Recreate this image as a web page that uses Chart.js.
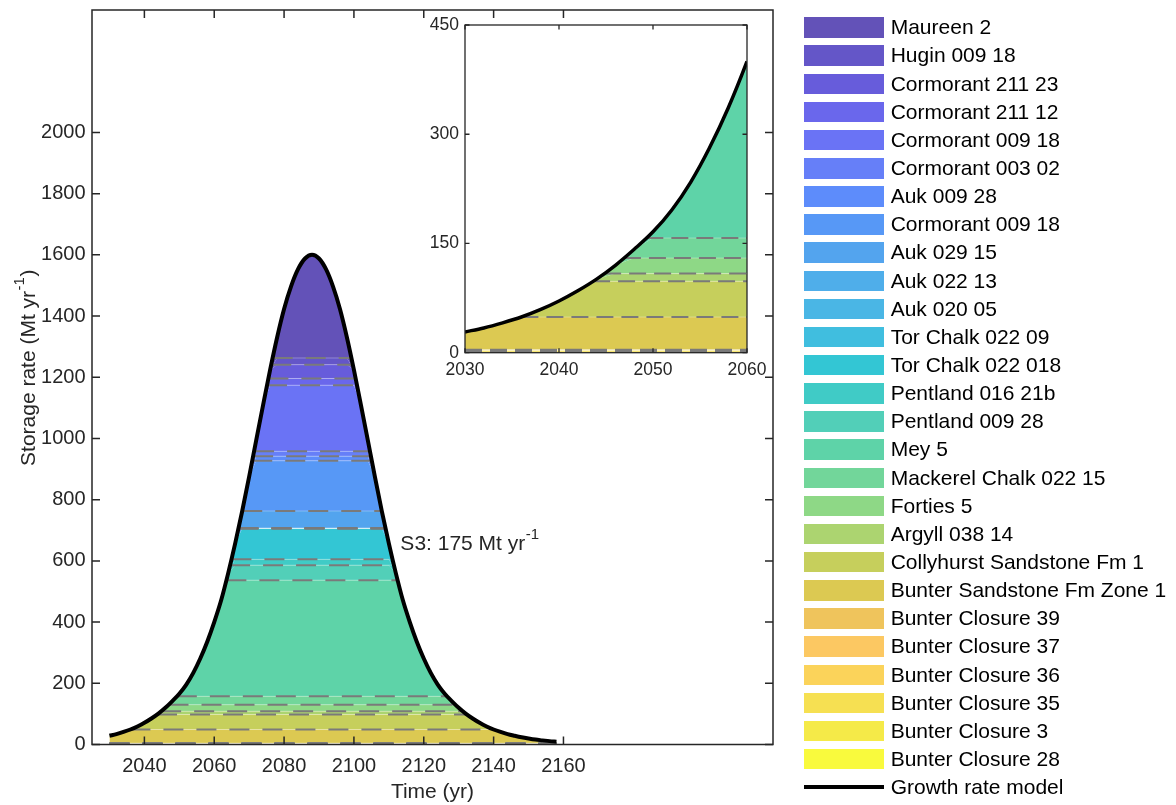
<!DOCTYPE html>
<html>
<head>
<meta charset="utf-8">
<script src="https://cdn.jsdelivr.net/npm/chart.js@4.4.1/dist/chart.umd.min.js"></script>
<style>
html,body{margin:0;padding:0;background:#fff;}
#wrap{position:relative;width:1176px;height:805px;overflow:hidden;font-family:"Liberation Sans",Arial,sans-serif;}
#main{position:absolute;left:0;top:0;}
#inset{position:absolute;left:410px;top:15px;}
#legend{position:absolute;left:803.5px;top:0;width:372px;height:805px;}
.item{position:absolute;left:0;height:20.5px;width:372px;}
.sw{position:absolute;left:0;top:0;width:80px;height:20.5px;}
.ln{position:absolute;left:0;top:8.25px;width:80px;height:4px;background:#000;}
.lbl{position:absolute;left:87.2px;top:0;height:20.5px;line-height:20.5px;font-size:21px;color:#000;white-space:nowrap;}
</style>
</head>
<body>
<div id="wrap">
<canvas id="main" width="1176" height="805"></canvas>
<canvas id="inset" width="360" height="380"></canvas>
<div id="legend"></div>
</div>
<script>
// ---------------- data ----------------
const years = [2030,2032,2034,2036,2038,2040,2042,2044,2046,2048,2050,2052,2054,2056,2058,2060,2062,2064,2066,2068,2070,2072,2074,2076,2078,2080,2082,2084,2086,2088,
               2090,2092,2094,2096,2098,2100,2102,2104,2106,2108,2110,2112,2114,2116,2118,2120,2122,2124,2126,2128,2130,2132,2134,2136,2138,2140,2142,2144,2146,2148,2150,2152,2154,2156,2158];
const growthRate = [28.5,34,41,49,59,71,85,101,120,142,166,196,234,281,336,400,472,560,657,762,875,993,1110,1224,1330,1423,1497,1553,1588,1600,
                    1588,1553,1497,1423,1330,1224,1110,993,875,762,657,560,472,400,336,281,234,196,166,142,120,101,85,71,59,49,41,34,28.5,23.5,19.5,16,13.5,11,9];
// storage sites, bottom of the stack first
const sites = ["Bunter Closure 28","Bunter Closure 3","Bunter Closure 35","Bunter Closure 36","Bunter Closure 37","Bunter Closure 39",
  "Bunter Sandstone Fm Zone 1","Collyhurst Sandstone Fm 1","Argyll 038 14","Forties 5","Mackerel Chalk 022 15","Mey 5",
  "Pentland 009 28","Pentland 016 21b","Tor Chalk 022 018","Tor Chalk 022 09","Auk 020 05","Auk 022 13","Auk 029 15",
  "Cormorant 009 18","Auk 009 28","Cormorant 003 02","Cormorant 009 18","Cormorant 211 12","Cormorant 211 23","Hugin 009 18","Maureen 2"];
// storage rate taken by each site (Mt/yr), same order
const siteRates = [0.5,0.5,2.2,0.3,0.2,0.3,45,49,10.6,21.4,27.5,379.5,49,19,101,0.2,0.2,0.2,56.4,164,15,16,216,22,45,22,400];
const mainXTicks = [2040,2060,2080,2100,2120,2140,2160];
const mainYTicks = [0,200,400,600,800,1000,1200,1400,1600,1800,2000];
const insetXTicks = [2030,2040,2050,2060];
const insetYTicks = [0,150,300,450];
const xTitle = "Time (yr)";
const yTitleParts = ["Storage rate (Mt yr", "-1", ")"];
const annotationParts = ["S3: 175 Mt yr", "-1", ""];
const annotationPos = {x: 2113.3, y: 655};

// ---------------- styles ----------------
const siteColors = ["#F9FA3D","#F5EA48","#F6E052","#FBD35A","#FCC862","#EFC45C",
  "#DCC952","#C6CF5C","#ACD470","#8ED886","#72D69A","#5ED3A8",
  "#52CFB8","#40CBC6","#33C6D4","#40BEDF","#4AB6E5","#4FAEEA","#53A4EE",
  "#5798F6","#5D8CFB","#667FF8","#6A73F5","#6A67EC","#675CDB","#6456C8","#6352B8"];
const FONT = '"Liberation Sans", Arial, sans-serif';
const TXT = '#262626';

// cumulative band tops
const tops = [];
siteRates.reduce((acc, r) => { const t = acc + r; tops.push(t); return t; }, 0);

function crossing(L) {
  const n = years.length;
  let xl = null, xr = null;
  if (growthRate[0] >= L) xl = years[0];
  else for (let i = 1; i < n; i++) if (growthRate[i] >= L) {
    const a = growthRate[i-1], b = growthRate[i];
    xl = years[i-1] + (L - a) / (b - a) * (years[i] - years[i-1]); break;
  }
  if (xl === null) return null;
  if (growthRate[n-1] >= L) xr = years[n-1];
  else for (let i = n - 2; i >= 0; i--) if (growthRate[i] >= L) {
    const a = growthRate[i], b = growthRate[i+1];
    xr = years[i] + (a - L) / (a - b) * (years[i+1] - years[i]); break;
  }
  return [xl, xr];
}

function buildDatasets(curveWidth, dash, dashWidth) {
  const ds = [];
  sites.forEach((s, k) => {
    ds.push({
      label: s,
      data: years.map((x, i) => ({x, y: Math.min(growthRate[i], tops[k])})),
      borderWidth: 0, pointRadius: 0, backgroundColor: siteColors[k],
      fill: k === 0 ? 'origin' : '-1', order: 4
    });
  });
  tops.slice(0, -1).forEach(L => {
    const c = crossing(L);
    if (!c) return;
    const pts = [{x: c[0], y: L}, {x: c[1], y: L}];
    ds.push({data: pts, borderColor: 'rgba(255,255,255,0.3)', borderWidth: 1, pointRadius: 0, fill: false, order: 3});
    ds.push({data: pts, borderColor: '#7a7a7a', borderWidth: dashWidth, borderDash: dash, pointRadius: 0, fill: false, order: 2, borderCapStyle: 'butt'});
  });
  ds.push({
    label: 'Growth rate model',
    data: years.map((x, i) => ({x, y: growthRate[i]})),
    borderColor: '#000', borderWidth: curveWidth, pointRadius: 0, fill: false,
    cubicInterpolationMode: 'monotone', borderJoinStyle: 'round', order: 0
  });
  return ds;
}

// text with a raised superscript, drawn starting at (0,0) with middle baseline
function supText(ctx, parts, size, align) {
  const big = size + 'px ' + FONT, small = Math.round(size * 0.7) + 'px ' + FONT;
  ctx.font = big; const w0 = ctx.measureText(parts[0]).width; const w2 = ctx.measureText(parts[2]).width;
  ctx.font = small; const w1 = ctx.measureText(parts[1]).width;
  const total = w0 + w1 + w2;
  let x = align === 'center' ? -total / 2 : 0;
  ctx.textAlign = 'left'; ctx.textBaseline = 'middle';
  ctx.font = big; ctx.fillText(parts[0], x, 0); x += w0;
  ctx.font = small; ctx.fillText(parts[1], x + 0.5, -size * 0.42); x += w1 + 1;
  ctx.font = big; ctx.fillText(parts[2], x, 0);
}

const framePlugin = {
  id: 'frame',
  beforeDraw(chart, args, o) {
    if (!o.bg) return;
    const a = chart.chartArea, ctx = chart.ctx;
    ctx.save(); ctx.fillStyle = '#fff';
    ctx.fillRect(a.left, a.top, a.right - a.left, a.bottom - a.top);
    ctx.restore();
  },
  afterDatasetsDraw(chart, args, o) {
    const {ctx, chartArea: a, scales: {x, y}} = chart;
    ctx.save();
    ctx.strokeStyle = TXT; ctx.lineWidth = o.lw;
    ctx.beginPath();
    o.xt.forEach(v => { const p = x.getPixelForValue(v);
      ctx.moveTo(p, a.bottom); ctx.lineTo(p, a.bottom - o.tl);
      ctx.moveTo(p, a.top); ctx.lineTo(p, a.top + o.tl); });
    o.yt.forEach(v => { const p = y.getPixelForValue(v);
      ctx.moveTo(a.left, p); ctx.lineTo(a.left + o.tl, p);
      ctx.moveTo(a.right, p); ctx.lineTo(a.right - o.tl, p); });
    ctx.stroke();
    ctx.strokeRect(a.left, a.top, a.right - a.left, a.bottom - a.top);
    ctx.fillStyle = TXT;
    if (o.note) {
      ctx.save();
      ctx.translate(x.getPixelForValue(o.note.x), y.getPixelForValue(o.note.y));
      supText(ctx, o.note.parts, 21, 'left');
      ctx.restore();
    }
    if (o.ytitle) {
      ctx.save();
      ctx.translate(o.ytitle.cx, (a.top + a.bottom) / 2 + o.ytitle.dy);
      ctx.rotate(-Math.PI / 2);
      supText(ctx, o.ytitle.parts, 21, 'center');
      ctx.restore();
    }
    ctx.restore();
  }
};

function fixedTicks(arr) { return s => { s.ticks = arr.map(v => ({value: v})); }; }
function fitX(h) { return s => { s.height = h; s.paddingLeft = 0; s.paddingRight = 0; s.paddingTop = 0; s.paddingBottom = 0; }; }
function fitY(w) { return s => { s.width = w; s.paddingLeft = 0; s.paddingRight = 0; s.paddingTop = 0; s.paddingBottom = 0; }; }
const plain = v => String(v);

new Chart(document.getElementById('main'), {
  type: 'line',
  data: {datasets: buildDatasets(4, [20, 13], 2)},
  plugins: [framePlugin],
  options: {
    responsive: false, animation: false,
    layout: {padding: {left: 0, top: 10, right: 403, bottom: 0}},
    elements: {line: {tension: 0}},
    plugins: {
      legend: {display: false}, tooltip: {enabled: false},
      frame: {lw: 1.5, tl: 8, xt: mainXTicks, yt: mainYTicks,
              note: {parts: annotationParts, x: annotationPos.x, y: annotationPos.y},
              ytitle: {parts: yTitleParts, cx: 29, dy: -9}}
    },
    scales: {
      x: {
        type: 'linear', min: 2025, max: 2220,
        afterBuildTicks: fixedTicks(mainXTicks),
        afterFit: fitX(60.5),
        grid: {display: false, drawTicks: false}, border: {display: false},
        ticks: {font: {family: FONT, size: 20}, color: TXT, padding: 10, maxRotation: 0, autoSkip: false, callback: plain},
        title: {display: true, text: xTitle, font: {family: FONT, size: 21}, color: TXT, padding: {top: 0, bottom: 0}}
      },
      y: {
        type: 'linear', min: 0, max: 2400,
        afterBuildTicks: fixedTicks(mainYTicks),
        afterFit: fitY(92),
        grid: {display: false, drawTicks: false}, border: {display: false},
        ticks: {font: {family: FONT, size: 20}, color: TXT, padding: 6.5, autoSkip: false, callback: plain}
      }
    }
  }
});

new Chart(document.getElementById('inset'), {
  type: 'line',
  data: {datasets: buildDatasets(3.5, [17, 8], 2)},
  plugins: [framePlugin],
  options: {
    responsive: false, animation: false,
    layout: {padding: {left: 0, top: 10, right: 23, bottom: 0}},
    elements: {line: {tension: 0}},
    plugins: {
      legend: {display: false}, tooltip: {enabled: false},
      frame: {lw: 1.3, tl: 4.5, xt: insetXTicks, yt: insetYTicks, bg: true}
    },
    scales: {
      x: {
        type: 'linear', min: 2030, max: 2060,
        afterBuildTicks: fixedTicks(insetXTicks),
        afterFit: fitX(42.3),
        grid: {display: false, drawTicks: false}, border: {display: false},
        ticks: {font: {family: FONT, size: 17.5}, color: TXT, padding: 7, maxRotation: 0, autoSkip: false, callback: plain}
      },
      y: {
        type: 'linear', min: 0, max: 450,
        afterBuildTicks: fixedTicks(insetYTicks),
        afterFit: fitY(55),
        grid: {display: false, drawTicks: false}, border: {display: false},
        ticks: {font: {family: FONT, size: 17.5}, color: TXT, padding: 6, autoSkip: false, callback: plain}
      }
    }
  }
});

// ---------------- legend ----------------
const legend = document.getElementById('legend');
const pitch = 28.14;
const entries = sites.map((s, i) => i).reverse();
entries.forEach((i, k) => {
  const d = document.createElement('div');
  d.className = 'item'; d.style.top = (17.3 + k * pitch) + 'px';
  d.innerHTML = '<div class="sw" style="background:' + siteColors[i] + '"></div><div class="lbl"></div>';
  d.querySelector('.lbl').textContent = sites[i];
  legend.appendChild(d);
});
const dl = document.createElement('div');
dl.className = 'item'; dl.style.top = (17.3 + entries.length * pitch) + 'px';
dl.innerHTML = '<div class="ln"></div><div class="lbl">Growth rate model</div>';
legend.appendChild(dl);
</script>
</body>
</html>
